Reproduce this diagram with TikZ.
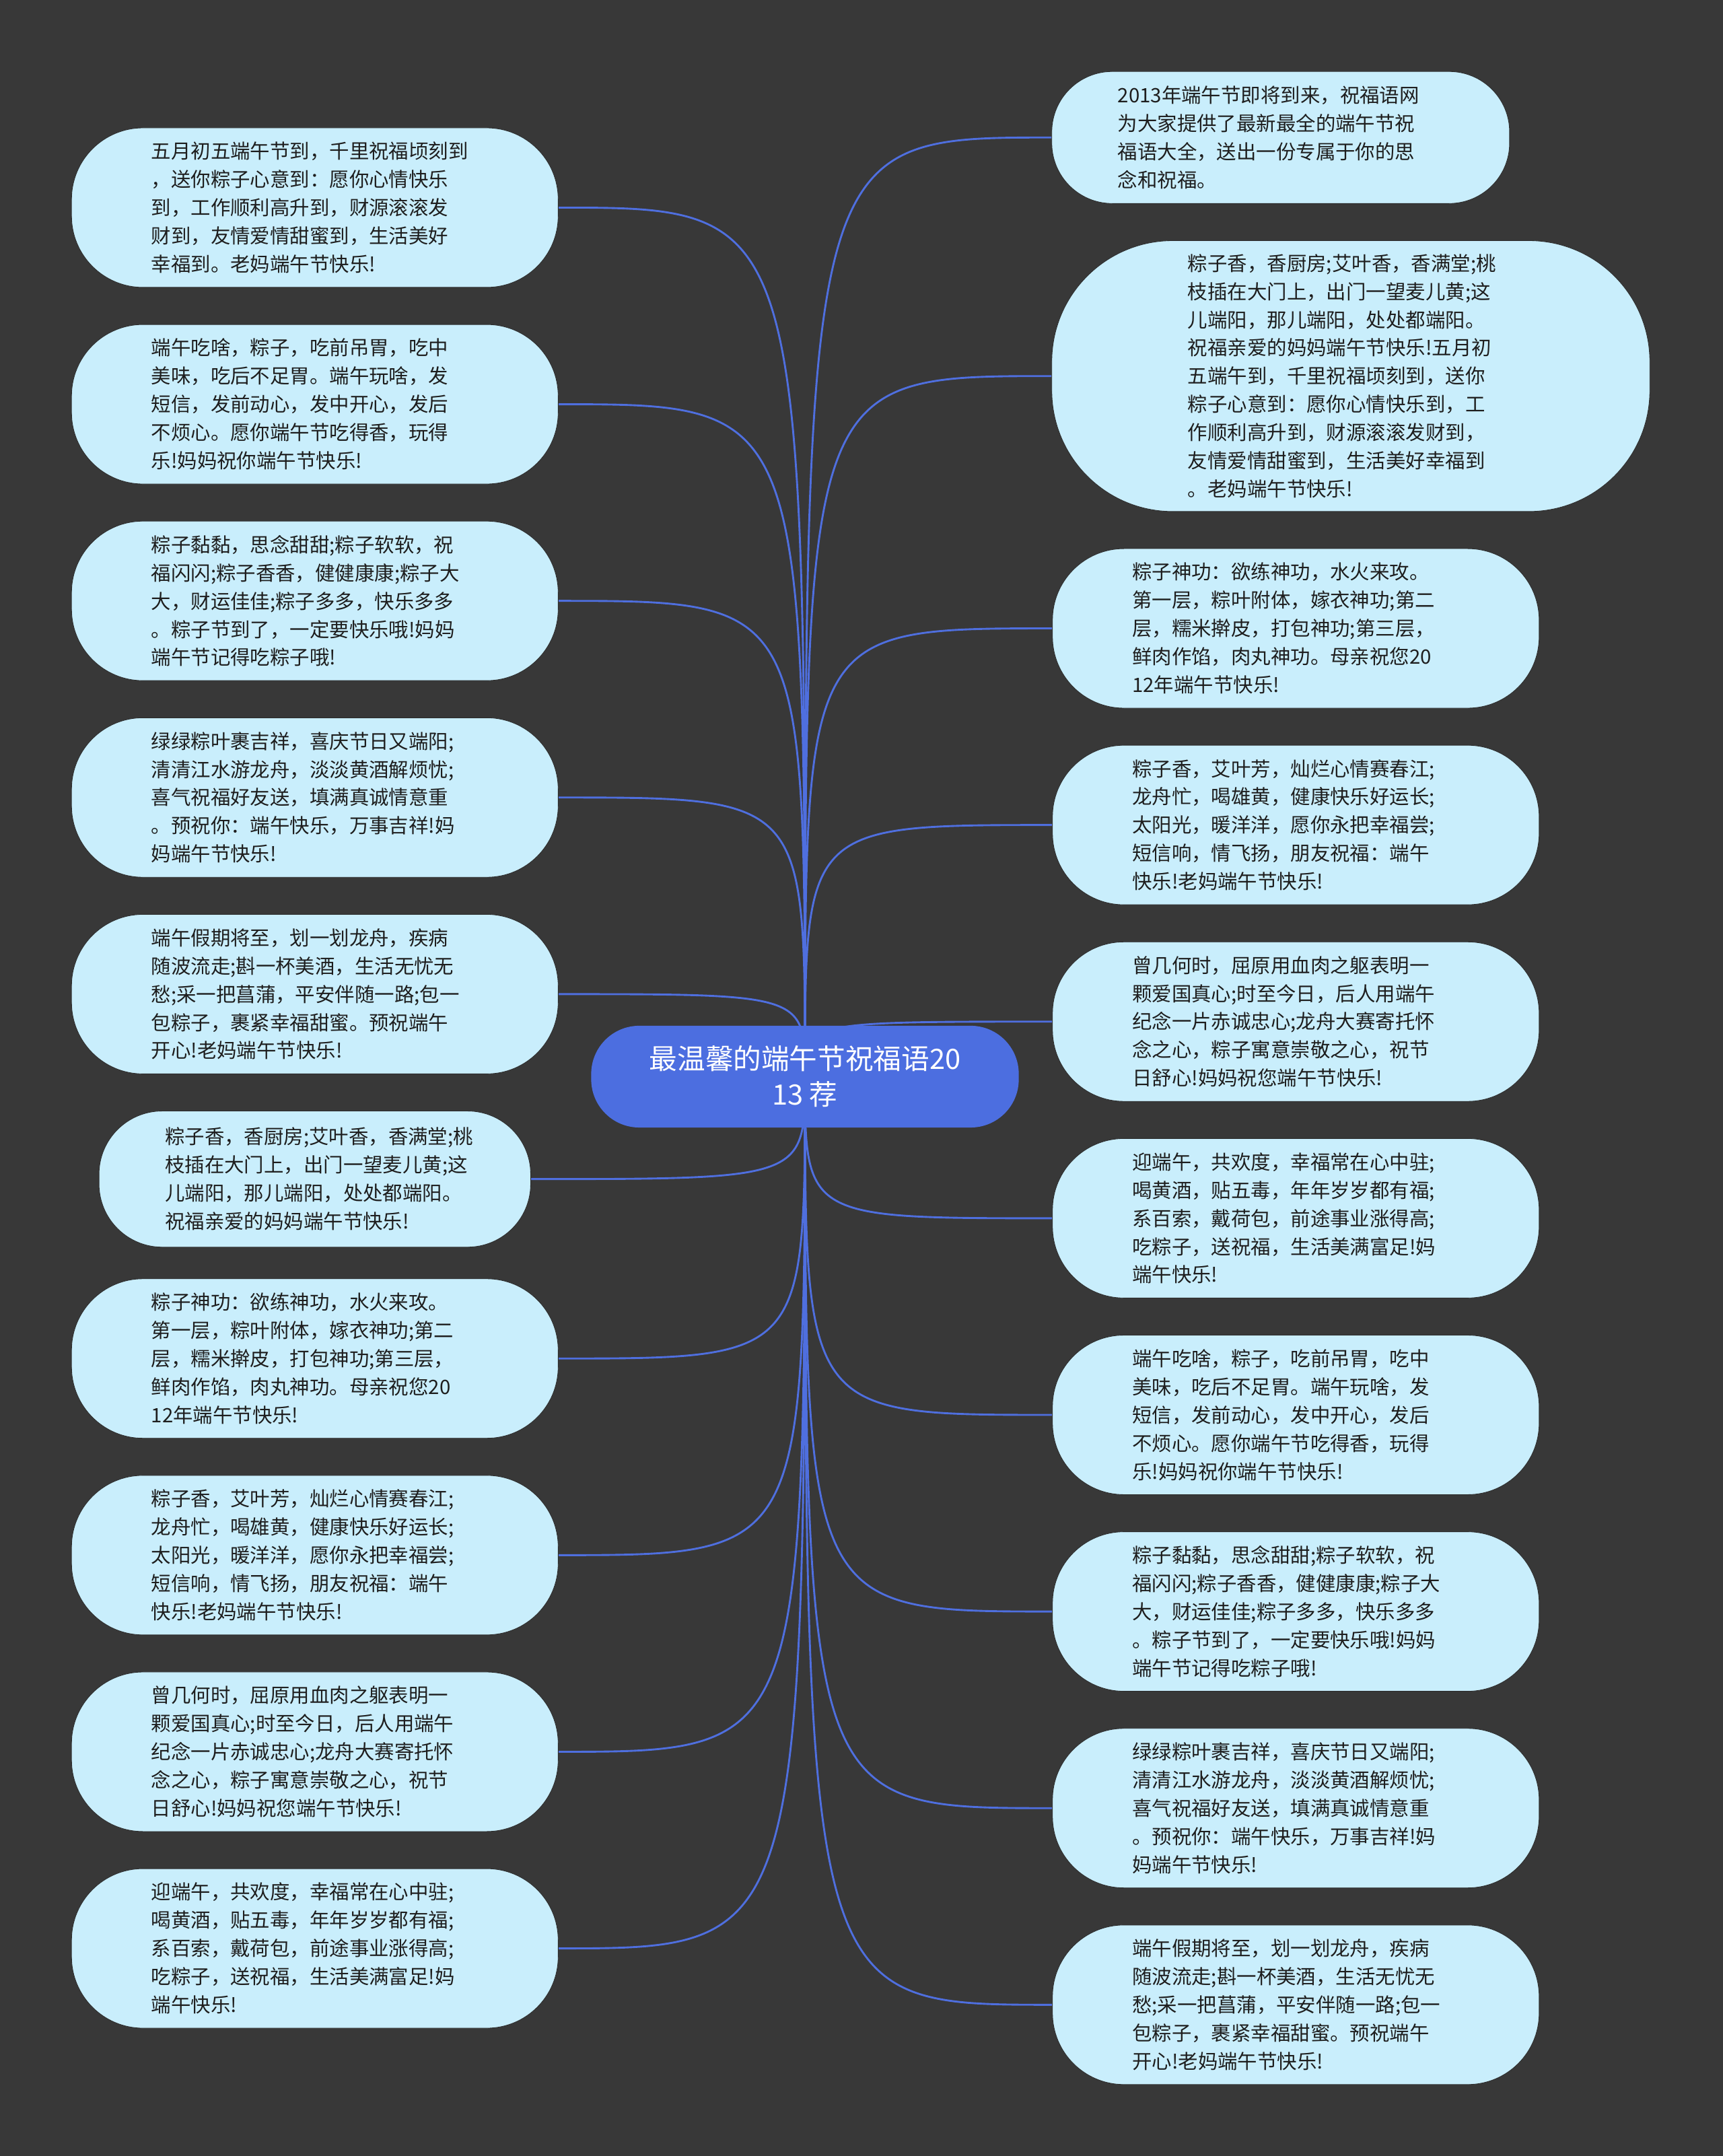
\documentclass[tikz,border=0pt]{standalone}
\usepackage{fontspec}
\setmainfont{Noto Sans CJK SC}
\usetikzlibrary{calc}
\definecolor{bgc}{HTML}{383838}
\definecolor{edgec}{HTML}{4F6FDF}
\definecolor{rootc}{HTML}{4C6EE0}
\definecolor{leafc}{HTML}{C9EEFC}
\definecolor{leafb}{HTML}{2C2C2C}
\definecolor{txtc}{HTML}{1E1E1E}
\pgfdeclarelayer{bgl}
\pgfdeclarelayer{edgel}
\pgfsetlayers{bgl,edgel,main}
\tikzset{
  leaf/.style={fill=leafc, draw=leafb, line width=0.6pt, align=left, text=txtc,
    font=\fontsize{20.5}{29.2}\selectfont, inner sep=0pt, text width=11.9cm,
    minimum width=17.7cm, minimum height=5.8cm, rounded corners=2.6cm},
  leafsmall/.style={leaf, text width=10.9cm, minimum width=15.7cm, minimum height=4.95cm, rounded corners=2.3cm},
  leafr1/.style={leaf, text width=11.85cm, minimum width=16.65cm, minimum height=4.8cm, rounded corners=2.2cm},
  leafr2/.style={leaf, text width=11.85cm, minimum width=21.75cm, minimum height=9.85cm, rounded corners=4.4cm},
  root/.style={fill=rootc, text=white, align=center, inner sep=0pt,
    font=\fontsize{29}{37}\selectfont, minimum width=15.55cm, minimum height=3.7cm,
    rounded corners=1.75cm},
  edge/.style={draw=edgec, line width=2pt}
}
\begin{document}
\begin{tikzpicture}[x=0.05cm,y=-0.05cm]
\begin{pgfonlayer}{bgl}
\fill[bgc] (0,0) rectangle (1253,1568);
\end{pgfonlayer}
\useasboundingbox (0,0) rectangle (1253,1568);

\node[root] (c) at (585.5,783) {最温馨的端午节祝福语20\\13 荐};

% left column
\node[leaf] (L1) at (229,151) {五月初五端午节到，千里祝福顷刻到\\%
，送你粽子心意到：愿你心情快乐\\%
到，工作顺利高升到，财源滚滚发\\%
财到，友情爱情甜蜜到，生活美好\\%
幸福到。老妈端午节快乐!};
\node[leaf] (L2) at (229,294) {端午吃啥，粽子，吃前吊胃，吃中\\%
美味，吃后不足胃。端午玩啥，发\\%
短信，发前动心，发中开心，发后\\%
不烦心。愿你端午节吃得香，玩得\\%
乐!妈妈祝你端午节快乐!};
\node[leaf] (L3) at (229,437) {粽子黏黏，思念甜甜;粽子软软，祝\\%
福闪闪;粽子香香，健健康康;粽子大\\%
大，财运佳佳;粽子多多，快乐多多\\%
。粽子节到了，一定要快乐哦!妈妈\\%
端午节记得吃粽子哦!};
\node[leaf] (L4) at (229,580) {绿绿粽叶裹吉祥，喜庆节日又端阳;\\%
清清江水游龙舟，淡淡黄酒解烦忧;\\%
喜气祝福好友送，填满真诚情意重\\%
。预祝你：端午快乐，万事吉祥!妈\\%
妈端午节快乐!};
\node[leaf] (L5) at (229,723) {端午假期将至，划一划龙舟，疾病\\%
随波流走;斟一杯美酒，生活无忧无\\%
愁;采一把菖蒲，平安伴随一路;包一\\%
包粽子，裹紧幸福甜蜜。预祝端午\\%
开心!老妈端午节快乐!};
\node[leafsmall] (L6) at (229,857.5) {粽子香，香厨房;艾叶香，香满堂;桃\\%
枝插在大门上，出门一望麦儿黄;这\\%
儿端阳，那儿端阳，处处都端阳。\\%
祝福亲爱的妈妈端午节快乐!};
\node[leaf] (L7) at (229,988) {粽子神功：欲练神功，水火来攻。\\%
第一层，粽叶附体，嫁衣神功;第二\\%
层，糯米擀皮，打包神功;第三层，\\%
鲜肉作馅，肉丸神功。母亲祝您20\\%
12年端午节快乐!};
\node[leaf] (L8) at (229,1131) {粽子香，艾叶芳，灿烂心情赛春江;\\%
龙舟忙，喝雄黄，健康快乐好运长;\\%
太阳光，暖洋洋，愿你永把幸福尝;\\%
短信响，情飞扬，朋友祝福：端午\\%
快乐!老妈端午节快乐!};
\node[leaf] (L9) at (229,1274) {曾几何时，屈原用血肉之躯表明一\\%
颗爱国真心;时至今日，后人用端午\\%
纪念一片赤诚忠心;龙舟大赛寄托怀\\%
念之心，粽子寓意崇敬之心，祝节\\%
日舒心!妈妈祝您端午节快乐!};
\node[leaf] (L10) at (229,1417) {迎端午，共欢度，幸福常在心中驻;\\%
喝黄酒，贴五毒，年年岁岁都有福;\\%
系百索，戴荷包，前途事业涨得高;\\%
吃粽子，送祝福，生活美满富足!妈\\%
端午快乐!};

% right column
\node[leafr1] (R1) at (931.5,100) {2013年端午节即将到来，祝福语网\\%
为大家提供了最新最全的端午节祝\\%
福语大全，送出一份专属于你的思\\%
念和祝福。};
\node[leafr2] (R2) at (982.5,273.5) {粽子香，香厨房;艾叶香，香满堂;桃\\%
枝插在大门上，出门一望麦儿黄;这\\%
儿端阳，那儿端阳，处处都端阳。\\%
祝福亲爱的妈妈端午节快乐!五月初\\%
五端午到，千里祝福顷刻到，送你\\%
粽子心意到：愿你心情快乐到，工\\%
作顺利高升到，财源滚滚发财到，\\%
友情爱情甜蜜到，生活美好幸福到\\%
。老妈端午节快乐!};
\node[leaf] (R3) at (942.5,457) {粽子神功：欲练神功，水火来攻。\\%
第一层，粽叶附体，嫁衣神功;第二\\%
层，糯米擀皮，打包神功;第三层，\\%
鲜肉作馅，肉丸神功。母亲祝您20\\%
12年端午节快乐!};
\node[leaf] (R4) at (942.5,600) {粽子香，艾叶芳，灿烂心情赛春江;\\%
龙舟忙，喝雄黄，健康快乐好运长;\\%
太阳光，暖洋洋，愿你永把幸福尝;\\%
短信响，情飞扬，朋友祝福：端午\\%
快乐!老妈端午节快乐!};
\node[leaf] (R5) at (942.5,743) {曾几何时，屈原用血肉之躯表明一\\%
颗爱国真心;时至今日，后人用端午\\%
纪念一片赤诚忠心;龙舟大赛寄托怀\\%
念之心，粽子寓意崇敬之心，祝节\\%
日舒心!妈妈祝您端午节快乐!};
\node[leaf] (R6) at (942.5,886) {迎端午，共欢度，幸福常在心中驻;\\%
喝黄酒，贴五毒，年年岁岁都有福;\\%
系百索，戴荷包，前途事业涨得高;\\%
吃粽子，送祝福，生活美满富足!妈\\%
端午快乐!};
\node[leaf] (R7) at (942.5,1029) {端午吃啥，粽子，吃前吊胃，吃中\\%
美味，吃后不足胃。端午玩啥，发\\%
短信，发前动心，发中开心，发后\\%
不烦心。愿你端午节吃得香，玩得\\%
乐!妈妈祝你端午节快乐!};
\node[leaf] (R8) at (942.5,1172) {粽子黏黏，思念甜甜;粽子软软，祝\\%
福闪闪;粽子香香，健健康康;粽子大\\%
大，财运佳佳;粽子多多，快乐多多\\%
。粽子节到了，一定要快乐哦!妈妈\\%
端午节记得吃粽子哦!};
\node[leaf] (R9) at (942.5,1315) {绿绿粽叶裹吉祥，喜庆节日又端阳;\\%
清清江水游龙舟，淡淡黄酒解烦忧;\\%
喜气祝福好友送，填满真诚情意重\\%
。预祝你：端午快乐，万事吉祥!妈\\%
妈端午节快乐!};
\node[leaf] (R10) at (942.5,1458) {端午假期将至，划一划龙舟，疾病\\%
随波流走;斟一杯美酒，生活无忧无\\%
愁;采一把菖蒲，平安伴随一路;包一\\%
包粽子，裹紧幸福甜蜜。预祝端午\\%
开心!老妈端午节快乐!};

\begin{pgfonlayer}{edgel}
\foreach \n in {L1,L2,L3,L4,L5,L6,L7,L8,L9,L10}
  \draw[edge] (c.center) .. controls (c.center |- \n.east) .. (\n.east);
\foreach \n in {R1,R2,R3,R4,R5,R6,R7,R8,R9,R10}
  \draw[edge] (c.center) .. controls (c.center |- \n.west) .. (\n.west);
\end{pgfonlayer}
\end{tikzpicture}
\end{document}
